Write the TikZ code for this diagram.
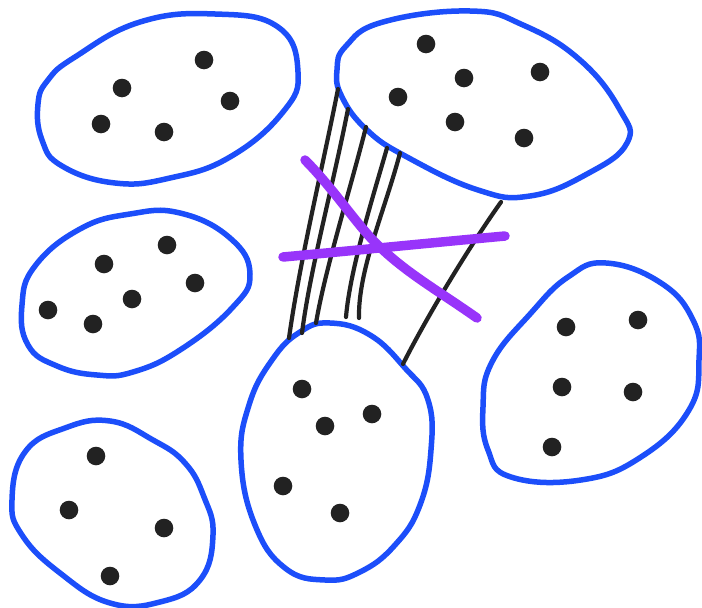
\documentclass[tikz,border=0pt]{standalone}
\definecolor{skblue}{RGB}{28,78,250}
\definecolor{skpurple}{RGB}{152,52,250}
\definecolor{skink}{RGB}{34,34,34}
\tikzset{
  blob/.style={draw=skblue, line width=5.5pt, line join=round},
  dot/.style={fill=skink, draw=none},
  tie/.style={draw=skink, line width=4.2pt, line cap=round},
  cross/.style={draw=skpurple, line width=9.5pt, line cap=round}
}
\begin{document}
\begin{tikzpicture}[x=1pt,y=-1pt]
\useasboundingbox (0,0) rectangle (702,608);
\fill[white] (0,0) rectangle (702,608);
% groups
\draw[blob] plot[smooth cycle, tension=0.75] coordinates {
  (38,104) (48,80) (75,57) (140,22) (215,14) (278,27) (298,72) (283,112)
  (230,157) (170,178) (115,183) (62,166) (42,140)};
\draw[blob] plot[smooth cycle, tension=0.75] coordinates {
  (337,70) (346,46) (383,22) (470,11) (523,25) (580,60) (620,110)
  (627,143) (587,174) (530,196) (478,190) (407,157) (367,130) (342,97)};
\draw[blob] plot[smooth cycle, tension=0.75] coordinates {
  (180,213) (230,238) (250,274) (232,308) (180,350) (133,372) (97,375)
  (57,366) (28,345) (22,305) (35,266) (80,229) (130,214)};
\draw[blob] plot[smooth cycle, tension=0.75] coordinates {
  (110,421) (153,440) (185,463) (204,497) (213,535) (200,580) (160,602)
  (110,603) (60,573) (22,535) (12,500) (25,452) (65,428)};
\draw[blob] plot[smooth cycle, tension=0.75] coordinates {
  (330,323) (370,335) (405,368) (428,400) (431,450) (420,505) (395,545)
  (360,572) (325,580) (285,568) (255,525) (241,460) (249,405) (272,360) (300,332)};
\draw[blob] plot[smooth cycle, tension=0.75] coordinates {
  (606,263) (661,283) (693,320) (699,360) (689,410) (641,457) (581,480)
  (511,477) (488,450) (483,407) (492,362) (531,313) (568,277)};
% dots
\foreach \p in {(204,60),(122,88),(230,101),(101,124),(164,132),
                (426,44),(464,78),(540,72),(398,97),(455,122),(524,138),
                (167,245),(104,264),(195,283),(132,299),(48,310),(93,324),
                (96,456),(69,510),(164,528),(110,576),
                (302,389),(372,414),(325,426),(283,486),(340,513),
                (566,327),(638,320),(562,387),(633,392),(552,447)}
  \fill[dot] \p circle[radius=9.3];
% ties
\coordinate (t1) at (338,89);  \coordinate (b1) at (289,338);
\coordinate (t2) at (348,109); \coordinate (b2) at (302,333);
\coordinate (t3) at (366,127); \coordinate (b3) at (316,323);
\coordinate (t4) at (387,148); \coordinate (b4) at (346,317);
\coordinate (t5) at (400,153); \coordinate (b5) at (359,318);
\coordinate (t6) at (501,202); \coordinate (b6) at (403,364);
\draw[tie] (t1) .. controls (322,170) and (300,260) .. (b1);
\draw[tie] (t2) .. controls (332,190) and (310,270) .. (b2);
\draw[tie] (t3) .. controls (350,190) and (325,270) .. (b3);
\draw[tie] (t4) .. controls (372,200) and (350,270) .. (b4);
\draw[tie] (t5) .. controls (385,210) and (358,270) .. (b5);
\draw[tie] (t6) .. controls (460,260) and (420,330) .. (b6);
% purple cross
\coordinate (p1) at (283,257); \coordinate (p2) at (505,236);
\coordinate (q1) at (305,160); \coordinate (q2) at (477,318);
\draw[cross] (p1) .. controls (360,250) and (440,242) .. (p2);
\draw[cross] (q1) .. controls (335,190) and (360,230) .. (383,250) .. controls (410,275) and (440,292) .. (q2);
\end{tikzpicture}
\end{document}
